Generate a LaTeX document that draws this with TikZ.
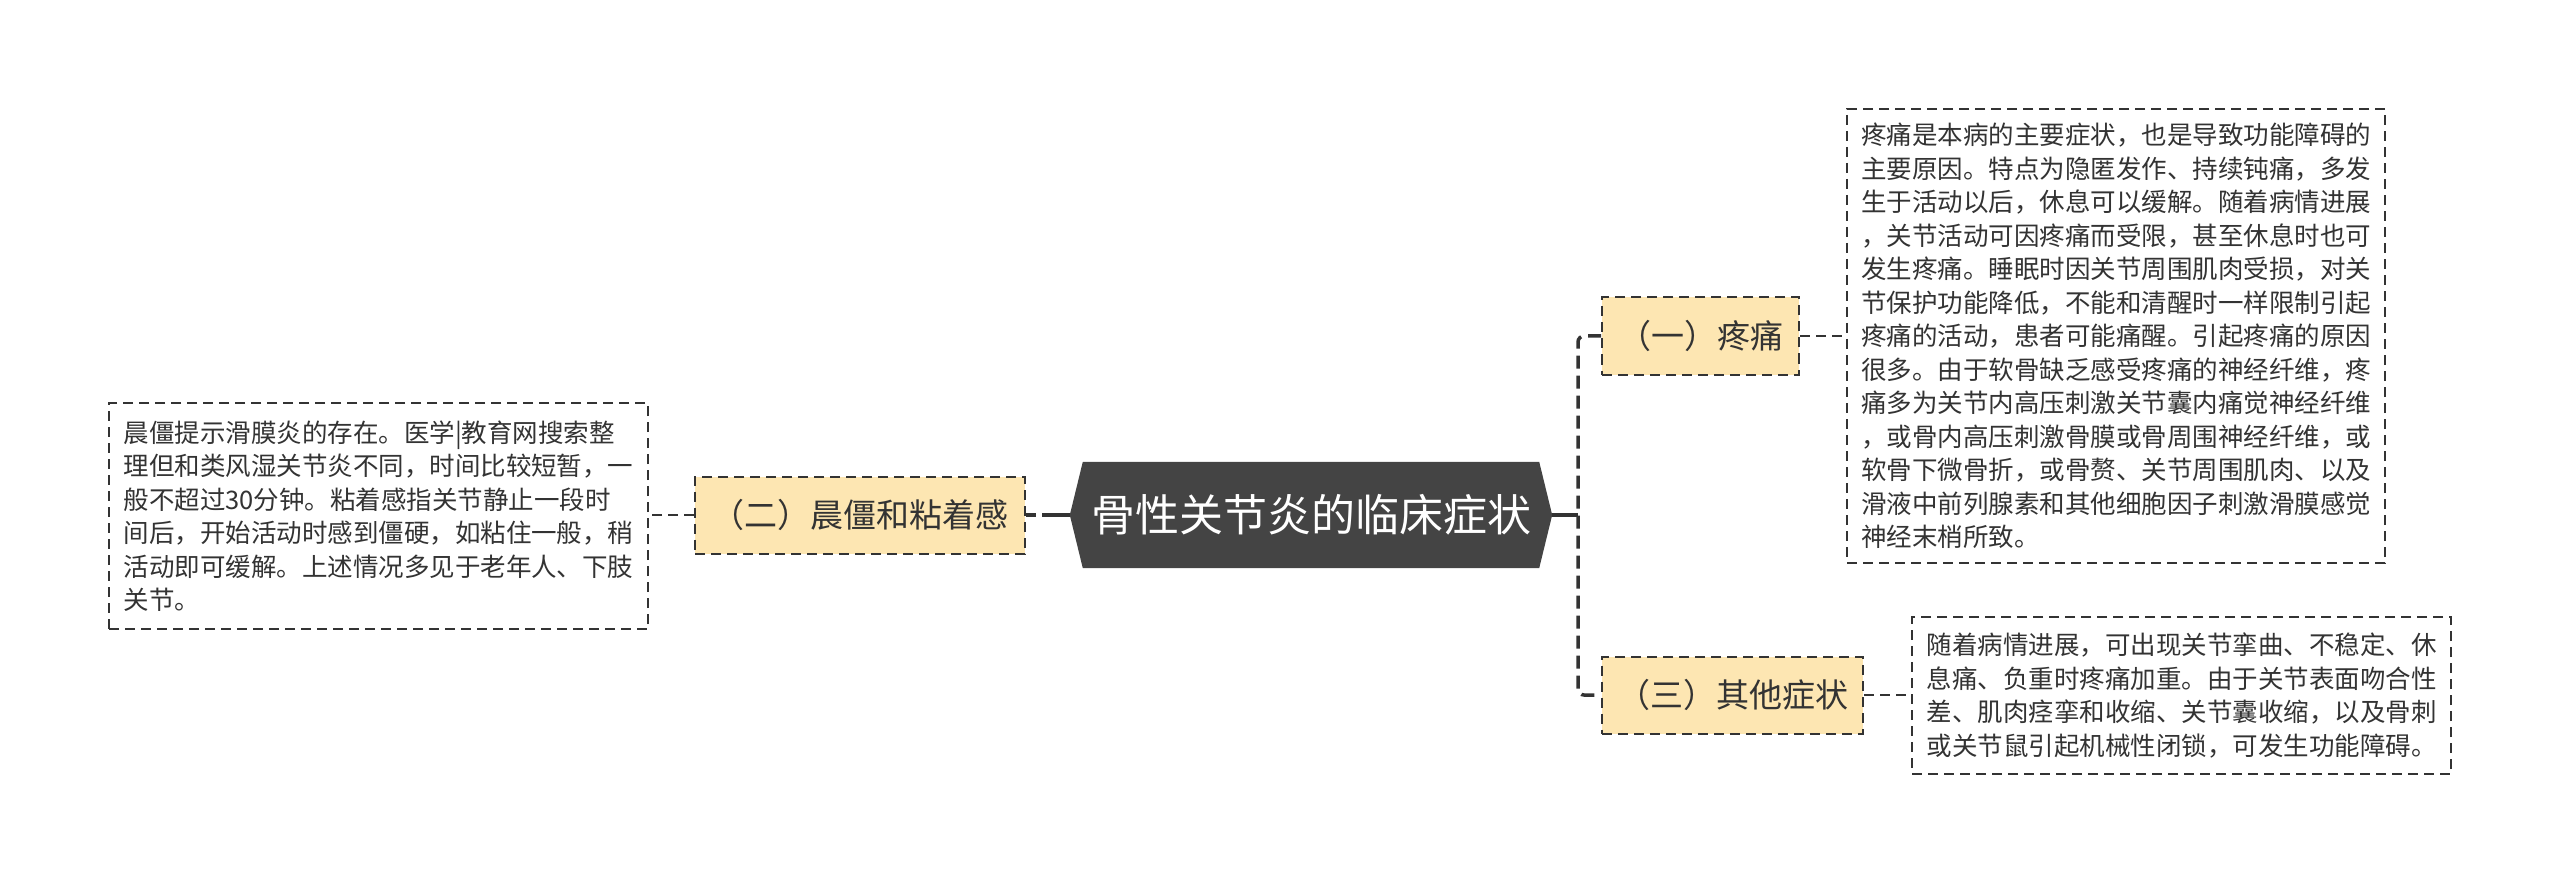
\documentclass[tikz,border=0pt]{standalone}
\usepackage{fontspec}
\newfontfamily\cjk{Noto Sans CJK SC}
\usetikzlibrary{backgrounds}
\definecolor{ink}{HTML}{333333}
\definecolor{tanfill}{RGB}{253,230,178}
\definecolor{hexfill}{HTML}{444444}
\begin{document}
\begin{tikzpicture}[x=1pt,y=-1pt,
  thindash/.style={line width=2pt, dash pattern=on 10pt off 6pt, draw=ink},
  topicbox/.style={thindash, fill=tanfill, font=\cjk\fontsize{33}{40}\selectfont, text=ink, inner sep=0pt, minimum height=77pt},
  notebox/.style={thindash, fill=white, font=\cjk\fontsize{25.5}{33.5}\selectfont, text=ink, align=left, inner sep=0pt},
  rootbox/.style={font=\cjk\fontsize{44}{50}\selectfont, text=white, inner sep=0pt, minimum width=456pt, minimum height=106pt},
  mainline/.style={line width=3.5pt, draw=ink},
  maindash/.style={line width=3.5pt, draw=ink, dash pattern=on 13pt off 7pt}
]
\useasboundingbox (0,0) rectangle (2560,885);

% central node
\node[rootbox] (root) at (1311,515) {骨性关节炎的临床症状};
\coordinate (rootL) at ([xshift=-13pt]root.west);
\coordinate (rootR) at ([xshift=13pt]root.east);
\begin{scope}[on background layer]
\fill[hexfill] (root.north west) -- (root.north east) -- (rootR) -- (root.south east) -- (root.south west) -- (rootL) -- cycle;
\end{scope}

% topics
\node[topicbox, minimum width=330pt] (n2) at (860,515) {（二）晨僵和粘着感};
\node[topicbox, minimum width=197pt] (n1) at (1700.5,336) {（一）疼痛};
\node[topicbox, minimum width=261pt] (n3) at (1732.5,695) {（三）其他症状};

% notes
\node[notebox, minimum width=539pt, minimum height=226pt] (t2) at (378.5,516) {晨僵提示滑膜炎的存在。医学|教育网搜索整\\理但和类风湿关节炎不同，时间比较短暂，一\\般不超过30分钟。粘着感指关节静止一段时\\间后，开始活动时感到僵硬，如粘住一般，稍\\活动即可缓解。上述情况多见于老年人、下肢\\关节。};

\node[notebox, minimum width=538pt, minimum height=454pt] (t1) at (2116,336) {疼痛是本病的主要症状，也是导致功能障碍的\\主要原因。特点为隐匿发作、持续钝痛，多发\\生于活动以后，休息可以缓解。随着病情进展\\，关节活动可因疼痛而受限，甚至休息时也可\\发生疼痛。睡眠时因关节周围肌肉受损，对关\\节保护功能降低，不能和清醒时一样限制引起\\疼痛的活动，患者可能痛醒。引起疼痛的原因\\很多。由于软骨缺乏感受疼痛的神经纤维，疼\\痛多为关节内高压刺激关节囊内痛觉神经纤维\\，或骨内高压刺激骨膜或骨周围神经纤维，或\\软骨下微骨折，或骨赘、关节周围肌肉、以及\\滑液中前列腺素和其他细胞因子刺激滑膜感觉\\神经末梢所致。};

\node[notebox, minimum width=539pt, minimum height=157pt] (t3) at (2181.5,695.5) {随着病情进展，可出现关节挛曲、不稳定、休\\息痛、负重时疼痛加重。由于关节表面吻合性\\差、肌肉痉挛和收缩、关节囊收缩，以及骨刺\\或关节鼠引起机械性闭锁，可发生功能障碍。};

% connectors
\coordinate (bx) at (1578,515);
\draw[mainline] (rootR) -- (bx);
\draw[maindash, rounded corners=6pt] (n1.west) -- (n1.west -| bx) -- (n3.west -| bx) -- (n3.west);
\draw[mainline, dash pattern=on 28pt off 6pt] (rootL) -- (n2.east);
\draw[thindash] (n2.west) -- (n2.west -| t2.east);
\draw[thindash] (n1.east) -- (n1.east -| t1.west);
\draw[thindash] (n3.east) -- (n3.east -| t3.west);
\end{tikzpicture}
\end{document}
